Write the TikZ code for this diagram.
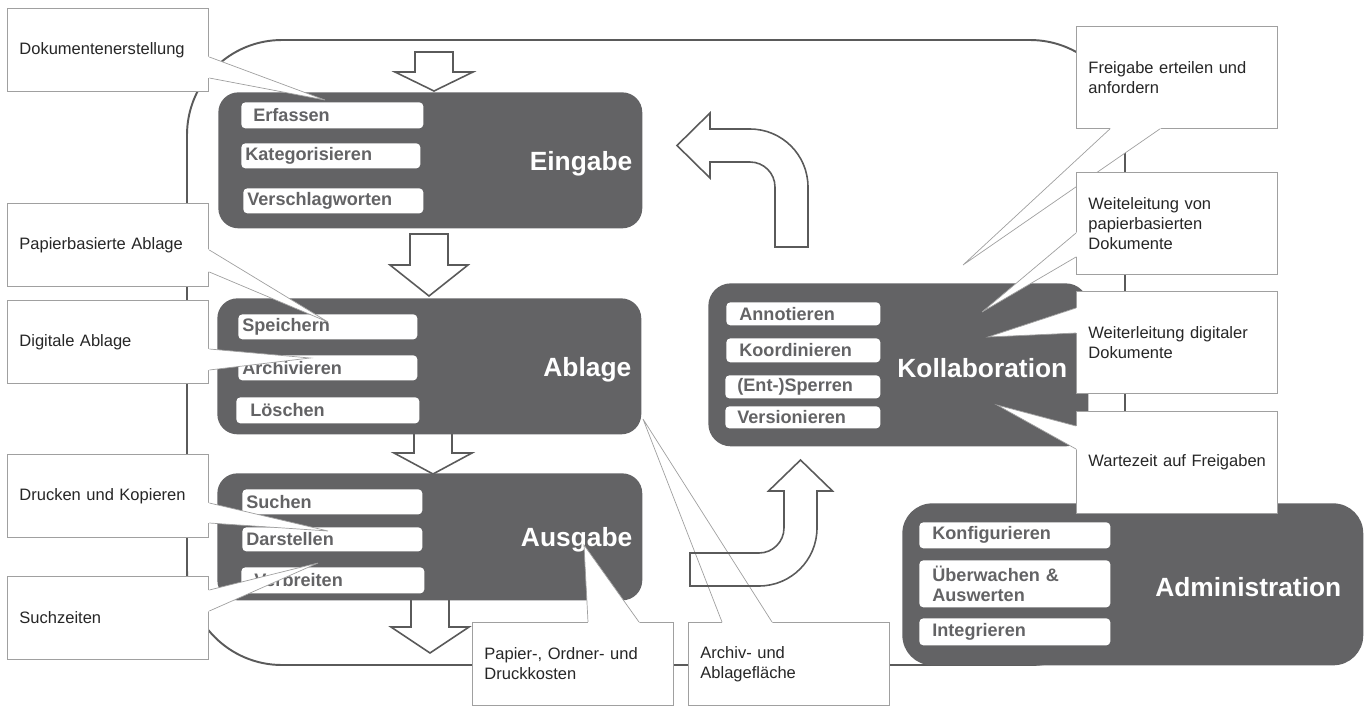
\documentclass[tikz,border=0pt]{standalone}
\usepackage{fontspec}
\setmainfont{Liberation Sans}
\usepackage{tikz}
\usetikzlibrary{positioning,calc}

\definecolor{stagegray}{RGB}{99,99,101}
\definecolor{framegray}{RGB}{90,90,90}
\definecolor{callgray}{RGB}{160,160,160}
\definecolor{calltext}{RGB}{38,38,38}

% down block arrow: centre x, top, head base, tip
\newcommand{\downblock}[4]{%
  \draw[blockarrow] (#1-19,#2) -- (#1+19,#2) -- (#1+19,#3) -- (#1+39,#3)
    -- (#1,#4) -- (#1-39,#3) -- (#1-19,#3) -- cycle;}

% callout tail: box anchor, two offsets on its border, tip
\newcommand{\calltail}[4]{%
  \coordinate (ta) at ($(#1)+(#2)$);
  \coordinate (tb) at ($(#1)+(#3)$);
  \fill[white] ($(ta)!-2pt!(#4)$) -- (ta) -- (#4) -- (tb) -- ($(tb)!-2pt!(#4)$) -- cycle;
  \draw[tailline] (ta) -- (#4) -- (tb);}

\begin{document}
\begin{tikzpicture}[x=0.02cm,y=-0.02cm,
    cycleframe/.style={draw=framegray,line width=1.1pt,rounded corners=1.9cm},
    blockarrow/.style={draw=framegray,line width=0.9pt},
    stage/.style={fill=stagegray,rounded corners=0.4cm,inner sep=0pt,anchor=north west},
    task/.style={fill=white,rounded corners=0.08cm,anchor=north west,inner xsep=0.08cm,
                 inner ysep=0pt,align=left,text=stagegray,
                 font=\fontsize{10.3}{11.5}\selectfont\bfseries},
    stagetitle/.style={text=white,inner sep=0pt,yshift=-0.06cm,
                       font=\fontsize{15}{18}\selectfont\bfseries},
    callout/.style={draw=callgray,line width=0.5pt,fill=white,anchor=north west,
                    inner xsep=0.24cm,text width=3.55cm,align=left,text=calltext,
                    font=\fontsize{9.4}{11.4}\selectfont},
    tailline/.style={draw=callgray,line width=0.4pt}]

  \useasboundingbox (0,0) rectangle (1370,707);

  % outer cycle
  \draw[cycleframe] (187,40) rectangle (1125,665);

  % flow arrows
  \downblock{434}{52}{72}{91}
  \downblock{429}{234}{265}{296}
  \downblock{433}{428}{453}{474}
  \downblock{430}{594}{627}{653}
  \draw[blockarrow] (775,247) -- (808,247) -- (808,187)
    arc[start angle=0,end angle=90,radius=1.16cm] -- (710,129) -- (710,113)
    -- (677,145.5) -- (710,178) -- (710,162) -- (750,162)
    arc[start angle=90,end angle=0,radius=0.5cm] -- cycle;

  % stages
  \node[stage,minimum width=8.48cm,minimum height=2.72cm] (eingabe) at (218,92) {};
  \node[stage,minimum width=8.48cm,minimum height=2.72cm] (ablage) at (217,298) {};
  \node[stage,minimum width=8.5cm,minimum height=2.54cm] (ausgabe) at (217,473) {};
  \node[stage,minimum width=7.6cm,minimum height=3.26cm,rounded corners=0.45cm] (kollab) at (708,283) {};
  \node[stage,minimum width=9.22cm,minimum height=3.24cm,rounded corners=0.6cm] (admin) at (902,503) {};

  \node[stagetitle,left=0.2cm of eingabe.east] {Eingabe};
  \node[stagetitle,left=0.2cm of ablage.east] {Ablage};
  \node[stagetitle,left=0.2cm of ausgabe.east] {Ausgabe};
  \node[stagetitle,left=0.42cm of kollab.east] {Kollaboration};
  \node[stagetitle,left=0.44cm of admin.east] {Administration};

  % tasks
  \node[task,text width=3.48cm,minimum height=0.52cm] (erfassen) at (241,102) {\hspace*{0.16cm}Erfassen};
  \node[task,text width=3.42cm,minimum height=0.5cm] (kategor) at (241,143) {Kategorisieren};
  \node[task,text width=3.44cm,minimum height=0.5cm] (verschlag) at (243,188) {Verschlagworten};

  \node[task,text width=3.42cm,minimum height=0.5cm] (speichern) at (238,314) {Speichern};
  \node[task,text width=3.42cm,minimum height=0.5cm] (archiv) at (238,355) {Archivieren};
  \node[task,text width=3.5cm,minimum height=0.52cm] (loeschen) at (236,397) {\hspace*{0.2cm}Löschen};

  \node[task,text width=3.44cm,minimum height=0.5cm] (suchen) at (242,489) {Suchen};
  \node[task,text width=3.44cm,minimum height=0.48cm] (darstellen) at (242,527) {Darstellen};
  \node[task,text width=3.5cm,minimum height=0.52cm] (verbreiten) at (241,567) {\hspace*{0.18cm}Verbreiten};

  \node[task,inner xsep=0.26cm,text width=2.56cm,minimum height=0.46cm] (annot) at (726,302) {Annotieren};
  \node[task,inner xsep=0.26cm,text width=2.56cm,minimum height=0.48cm] (koord) at (726,338) {Koordinieren};
  \node[task,inner xsep=0.24cm,text width=2.62cm,minimum height=0.46cm] (sperren) at (725,375) {(Ent-)Sperren};
  \node[task,inner xsep=0.24cm,text width=2.62cm,minimum height=0.44cm] (version) at (725,406) {Versionieren};

  \node[task,inner xsep=0.26cm,text width=3.3cm,minimum height=0.52cm] (konfig) at (919,522) {Konfigurieren};
  \node[task,inner xsep=0.26cm,text width=3.3cm,minimum height=0.94cm] (ueber) at (919,560) {Überwachen \&\\Auswerten};
  \node[task,inner xsep=0.26cm,text width=3.3cm,minimum height=0.54cm] (integ) at (919,618) {Integrieren};

  % callout tips
  \coordinate (tipDoc) at (325,100);
  \coordinate (tipPap) at (328,322);
  \coordinate (tipDig) at (310,358);
  \coordinate (tipDru) at (328,531);
  \coordinate (tipSuc) at (318,563);
  \coordinate (tipFre) at (963,265);
  \coordinate (tipWei) at (982,312);
  \coordinate (tipDigi) at (988,337);
  \coordinate (tipWar) at (997,405);
  \coordinate (tipKos) at (584,545);
  \coordinate (tipFla) at (643,419);

  % callouts left
  \node[callout,minimum height=1.66cm] (doc) at (7,8) {Dokumentenerstellung};
  \calltail{doc.north east}{0,49}{0,70}{tipDoc}
  \node[callout,minimum height=1.66cm] (pap) at (7,203) {Papierbasierte Ablage};
  \calltail{pap.north east}{0,47}{0,69}{tipPap}
  \node[callout,minimum height=1.66cm] (dig) at (7,300) {Digitale Ablage};
  \calltail{dig.north east}{0,49}{0,70}{tipDig}
  \node[callout,minimum height=1.66cm] (dru) at (7,454) {Drucken und Kopieren};
  \calltail{dru.north east}{0,49}{0,69}{tipDru}
  \node[callout,minimum height=1.66cm] (suc) at (7,576) {Suchzeiten};
  \calltail{suc.north east}{0,14}{0,35}{tipSuc}

  % callouts right
  \node[callout,text width=3.54cm,minimum height=2.04cm] (fre) at (1076,26) {Freigabe erteilen und\\anfordern};
  \calltail{fre.south west}{34,0}{84,0}{tipFre}
  \node[callout,text width=3.54cm,minimum height=2.04cm] (wei) at (1076,172) {Weiteleitung von\\papierbasierten\\Dokumente};
  \calltail{wei.north west}{0,61}{0,85}{tipWei}
  \node[callout,text width=3.54cm,minimum height=2.04cm] (digi) at (1076,291) {Weiterleitung digitaler\\Dokumente};
  \calltail{digi.north west}{0,17}{0,42}{tipDigi}
  \node[callout,text width=3.54cm,minimum height=2.04cm] (war) at (1076,411) {\mbox{Wartezeit auf Freigaben}};
  \calltail{war.north west}{0,15}{0,38}{tipWar}

  % callouts bottom
  \node[callout,text width=3.54cm,minimum height=1.66cm] (kos) at (472,622) {Papier-, Ordner- und\\Druckkosten};
  \calltail{kos.north west}{116,0}{167,0}{tipKos}
  \node[callout,text width=3.54cm,minimum height=1.66cm] (fla) at (688,622) {Archiv- und\\Ablagefläche};
  \calltail{fla.north west}{34,0}{84,0}{tipFla}

  % arrow back into collaboration
  \draw[blockarrow] (690,553) -- (759,553)
    arc[start angle=-90,end angle=0,radius=0.5cm] -- (784,491) -- (768.5,491)
    -- (800.5,460) -- (832.5,491) -- (817,491) -- (817,528)
    arc[start angle=0,end angle=-90,radius=1.16cm] -- (690,586) -- cycle;
\end{tikzpicture}
\end{document}
